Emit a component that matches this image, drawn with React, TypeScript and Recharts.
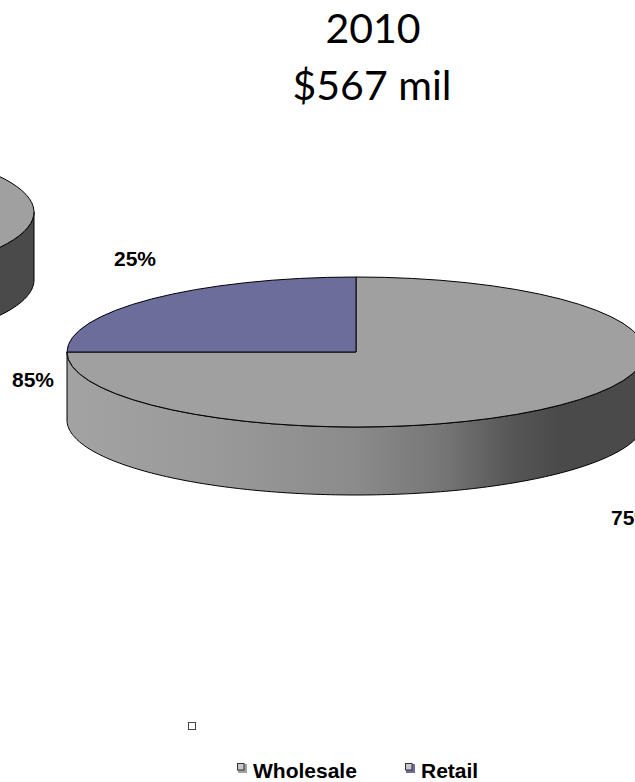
import React from 'react';
import { PieChart, Pie, Cell, Legend } from 'recharts';

// ---- data ----
const CATEGORIES = ['Wholesale', 'Retail'];
const SHARE_2010 = [75, 25];
const SHARE_2009 = [85, 15];
const TITLE_YEAR = '2010';
const TITLE_TOTAL = '$567 mil';

// ---- styles ----
const COLORS: Record<string, string> = { Wholesale: '#a0a0a0', Retail: '#6d6d9c' };
const RX = 289;
const TILT = 75 / 289;
const DEPTH = 68;
const RAD = Math.PI / 180;
const LABEL_OFFSETS: Record<string, [number, number]> = {
  '2010-Wholesale': [276, 173],
  '2010-Retail': [-221, -86],
  '2009-Wholesale': [288, 175],
  '2009-Retail': [-230, -90],
};

const data2010 = CATEGORIES.map((name, i) => ({ name, value: SHARE_2010[i] }));
const data2009 = CATEGORIES.map((name, i) => ({ name, value: SHARE_2009[i] }));

const make3DShape = (props: any) => {
  const { cx, cy, startAngle, endAngle, outerRadius, fill } = props;
  const rx = outerRadius;
  const ry = outerRadius * TILT;
  const pt = (a: number, dy = 0): [number, number] => [
    cx + rx * Math.cos(a * RAD),
    cy - ry * Math.sin(a * RAD) + dy,
  ];
  const lo = Math.min(startAngle, endAngle);
  const hi = Math.max(startAngle, endAngle);
  const sides: [number, number][] = [];
  for (let k = -2; k <= 2; k++) {
    const a = Math.max(lo, k * 360 - 180);
    const b = Math.min(hi, k * 360);
    if (b - a > 0.01) sides.push([a, b]);
  }
  const gid = `side-grad-${Math.round(cx)}-${Math.round(cy)}`;
  const sidePaths = sides.map(([a, b], i) => {
    const pts: string[] = [];
    const n = Math.max(2, Math.ceil(b - a));
    for (let j = 0; j <= n; j++) {
      const ang = a + ((b - a) * j) / n;
      const p = pt(ang);
      pts.push(`${p[0].toFixed(2)},${p[1].toFixed(2)}`);
    }
    for (let j = n; j >= 0; j--) {
      const ang = a + ((b - a) * j) / n;
      const p = pt(ang, DEPTH);
      pts.push(`${p[0].toFixed(2)},${p[1].toFixed(2)}`);
    }
    return (
      <path
        key={`s${i}`}
        d={`M${pts.join(' L')} Z`}
        fill={`url(#${gid})`}
        stroke="#000"
        strokeWidth={1}
        strokeLinejoin="round"
      />
    );
  });
  const ps = pt(startAngle);
  const pe = pt(endAngle);
  const large = Math.abs(endAngle - startAngle) > 180 ? 1 : 0;
  const sweep = startAngle > endAngle ? 1 : 0;
  const topD = `M${cx},${cy} L${ps[0]},${ps[1]} A${rx},${ry} 0 ${large} ${sweep} ${pe[0]},${pe[1]} Z`;
  return (
    <g>
      <defs>
        <linearGradient id={gid} gradientUnits="userSpaceOnUse" x1={cx - rx} y1={0} x2={cx + rx} y2={0}>
          <stop offset="0" stopColor="#a3a3a3" />
          <stop offset="0.25" stopColor="#9a9a9a" />
          <stop offset="0.5" stopColor="#8b8b8b" />
          <stop offset="0.65" stopColor="#767676" />
          <stop offset="0.77" stopColor="#565656" />
          <stop offset="0.85" stopColor="#4a4a4a" />
          <stop offset="1" stopColor="#4a4a4a" />
        </linearGradient>
      </defs>
      {sidePaths}
      <path d={topD} fill={fill} stroke="#000" strokeWidth={1} strokeLinejoin="round" />
    </g>
  );
};

const makeLabel = (year: string) => (props: any) => {
  const entry = props.payload && props.payload.payload ? props.payload.payload : props.payload;
  const name = props.name ?? (entry && entry.name);
  const off = LABEL_OFFSETS[`${year}-${name}`];
  if (!off) return null;
  return (
    <text
      x={props.cx + off[0]}
      y={props.cy + off[1]}
      textAnchor="middle"
      fontFamily="'Liberation Sans', Arial, sans-serif"
      fontWeight="bold"
      fontSize={21}
      fill="#000"
    >
      {`${Math.round(props.percent * 100)}%`}
    </text>
  );
};

const LegendContent = () => {
  const items = [
    { name: CATEGORIES[0], x: 237 },
    { name: CATEGORIES[1], x: 405 },
  ];
  return (
    <svg width={635} height={82} style={{ display: 'block' }}>
      <rect x={188.5} y={22.5} width={7} height={7} fill="#fff" stroke="#444" strokeWidth={1} />
      {items.map((it) => (
        <g key={it.name}>
          <rect x={it.x + 1} y={64} width={9} height={9} fill={COLORS[it.name]} />
          <rect x={it.x + 0.5} y={63.5} width={6.5} height={6.5} fill="#c8c8c8" stroke="#333" strokeWidth={1} />
          <text
            x={it.x + 16}
            y={78}
            fontFamily="'Liberation Sans', Arial, sans-serif"
            fontWeight="bold"
            fontSize={21}
            fill="#000"
          >
            {it.name}
          </text>
        </g>
      ))}
    </svg>
  );
};

export default function App() {
  return (
    <div style={{ position: 'absolute', left: 0, top: 0, width: 635, height: 782, background: '#fff' }}>
      <PieChart width={635} height={782} margin={{ top: 0, right: 0, bottom: 0, left: 0 }}>
        <Pie
          data={data2009}
          dataKey="value"
          nameKey="name"
          cx={-255}
          cy={212}
          outerRadius={RX}
          startAngle={90}
          endAngle={-270}
          isAnimationActive={false}
          shape={make3DShape}
          inactiveShape={make3DShape}
          activeShape={make3DShape}
          label={makeLabel('2009')}
          labelLine={false}
          stroke="#000"
        >
          {data2009.map((d) => (
            <Cell key={d.name} fill={COLORS[d.name]} />
          ))}
        </Pie>
        <Pie
          data={data2010}
          dataKey="value"
          nameKey="name"
          cx={356}
          cy={352}
          outerRadius={RX}
          startAngle={90}
          endAngle={-270}
          isAnimationActive={false}
          shape={make3DShape}
          inactiveShape={make3DShape}
          activeShape={make3DShape}
          label={makeLabel('2010')}
          labelLine={false}
          stroke="#000"
        >
          {data2010.map((d) => (
            <Cell key={d.name} fill={COLORS[d.name]} />
          ))}
        </Pie>
        <Legend
          content={<LegendContent />}
          wrapperStyle={{ left: 0, top: 700, width: 635, height: 82 }}
        />
      </PieChart>
      <svg
        width={635}
        height={120}
        style={{ position: 'absolute', left: 0, top: 0, pointerEvents: 'none' }}
      >
        <text x={373} y={43} textAnchor="middle" fontFamily="Lato, 'Open Sans', sans-serif" fontSize={41} fill="#000">
          {TITLE_YEAR}
        </text>
        <text x={372} y={100} textAnchor="middle" fontFamily="Lato, 'Open Sans', sans-serif" fontSize={41} fill="#000">
          {TITLE_TOTAL}
        </text>
      </svg>
    </div>
  );
}
